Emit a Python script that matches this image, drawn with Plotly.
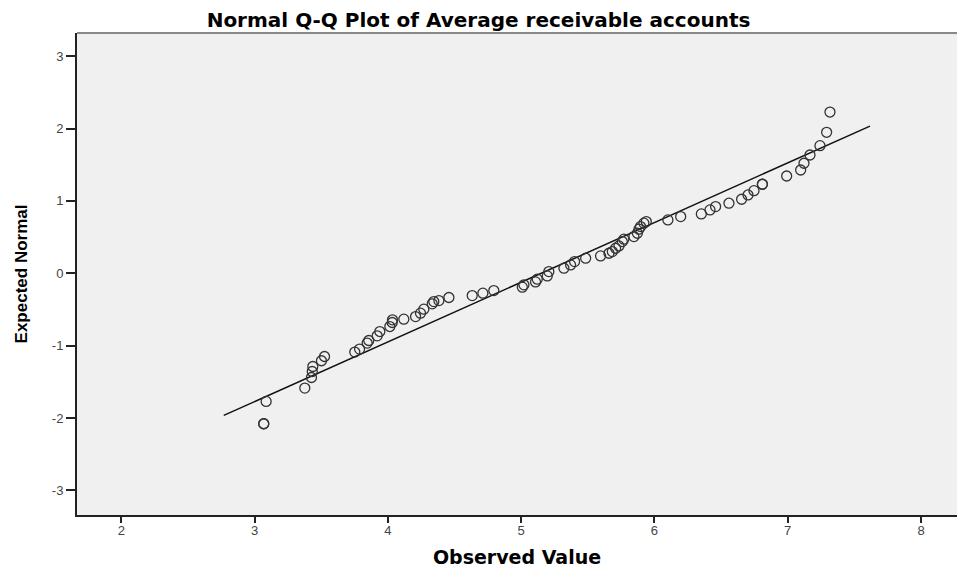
import plotly.graph_objects as go

observed = [3.069, 3.069, 3.087, 3.377, 3.427, 3.433, 3.437, 3.502, 3.525,
            3.752, 3.788, 3.845, 3.857, 3.920, 3.940, 4.015, 4.033, 4.035,
            4.120, 4.208, 4.245, 4.270, 4.333, 4.345, 4.383, 4.458, 4.633,
            4.713, 4.795, 5.009, 5.021, 5.108, 5.121, 5.196, 5.208, 5.321,
            5.371, 5.401, 5.484, 5.596, 5.659, 5.684, 5.709, 5.734, 5.759,
            5.771, 5.846, 5.872, 5.884, 5.896, 5.921, 5.939, 6.101, 6.197,
            6.352, 6.417, 6.459, 6.559, 6.654, 6.702, 6.747, 6.810, 6.810,
            6.992, 7.097, 7.122, 7.167, 7.242, 7.292, 7.317]
expected = [-2.079, -2.079, -1.771, -1.586, -1.440, -1.357, -1.288, -1.209, -1.150,
            -1.089, -1.048, -0.965, -0.929, -0.864, -0.805, -0.736, -0.680, -0.643,
            -0.634, -0.598, -0.551, -0.496, -0.422, -0.391, -0.377, -0.335, -0.308,
            -0.275, -0.239, -0.192, -0.160, -0.119, -0.081, -0.036, 0.023, 0.070,
            0.116, 0.161, 0.208, 0.240, 0.277, 0.300, 0.346, 0.378, 0.438,
            0.471, 0.507, 0.553, 0.609, 0.645, 0.692, 0.714, 0.737, 0.783,
            0.820, 0.875, 0.921, 0.968, 1.023, 1.082, 1.141, 1.230, 1.230,
            1.344, 1.427, 1.520, 1.634, 1.763, 1.948, 2.228]

# Reference line end points
line_x = [2.769, 7.617]
line_y = [-1.964, 2.034]

x_ticks = [2, 3, 4, 5, 6, 7, 8]
x_tick_labels = ["2", "3", "4", "5", "6", "7", "8"]
y_ticks = [-3, -2, -1, 0, 1, 2, 3]
y_tick_labels = ["-3", "-2", "-1", "0", "1", "2", "3"]

fig = go.Figure()
fig.add_trace(go.Scatter(x=line_x, y=line_y, mode="lines",
                         line=dict(color="#111111", width=1.5),
                         showlegend=False, hoverinfo="skip"))
fig.add_trace(go.Scatter(x=observed, y=expected, mode="markers",
                         marker=dict(symbol="circle-open", size=10,
                                     color="#333333", line=dict(width=1.3)),
                         showlegend=False))

tickfont = dict(family="Liberation Sans, Arial, sans-serif", size=13, color="#444444")

fig.update_layout(
    width=957, height=571,
    margin=dict(l=77, r=0, t=33, b=56),
    paper_bgcolor="white",
    plot_bgcolor="#f0f0f0",
    title=dict(text="<b>Normal Q-Q Plot of Average receivable accounts</b>",
               x=0.5, xanchor="center", y=1 - 20 / 571, yanchor="middle",
               font=dict(family="DejaVu Sans, sans-serif", size=20, color="black")),
    xaxis=dict(range=[1.668, 8.27], tickvals=x_ticks, ticktext=x_tick_labels,
               ticks="outside", ticklen=6, tickwidth=1.5, tickcolor="#222222",
               ticklabelstandoff=-4,
               showgrid=False, zeroline=False,
               showline=True, linecolor="#222222", linewidth=2,
               tickfont=tickfont,
               title=dict(text="<b>Observed Value</b>", standoff=14,
                          font=dict(family="DejaVu Sans, sans-serif", size=19, color="black"))),
    yaxis=dict(range=[-3.34, 3.32], tickvals=y_ticks, ticktext=y_tick_labels,
               ticks="outside", ticklen=9, tickwidth=1.5, tickcolor="#222222",
               showgrid=False, zeroline=False,
               showline=True, linecolor="#222222", linewidth=2,
               tickfont=tickfont,
               title=dict(text="<b>Expected Normal</b>", standoff=20,
                          font=dict(family="Liberation Sans, Arial, sans-serif", size=17, color="black"))),
    shapes=[dict(type="line", xref="paper", yref="paper", x0=0, x1=1, y0=1, y1=1,
                 line=dict(color="#888888", width=2))],
)

fig.write_html("out.html",
               config={"displayModeBar": False},
               post_script="document.body.style.margin='0px';document.body.style.overflow='hidden';")
